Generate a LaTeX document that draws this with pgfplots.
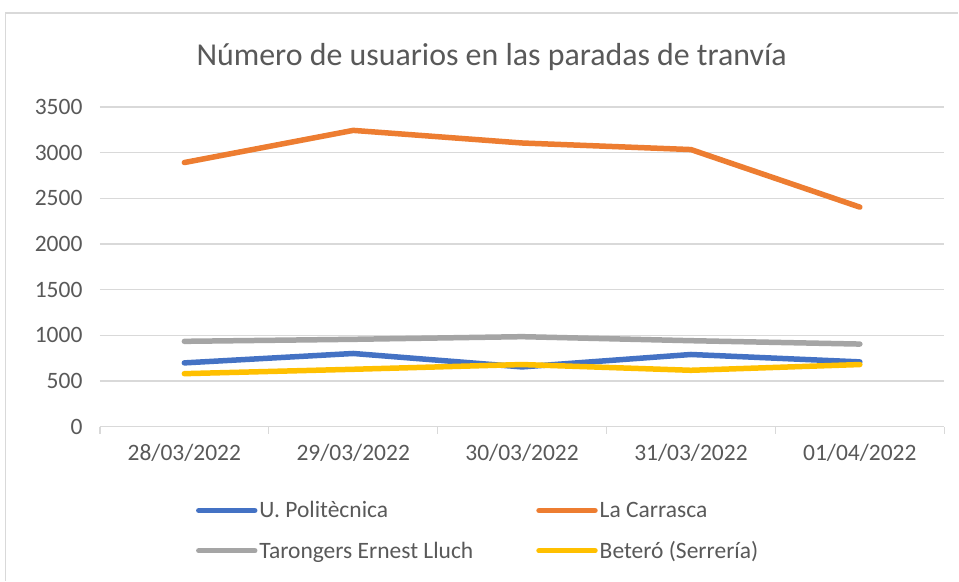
\documentclass[border=0pt]{standalone}
\usepackage{pgfplots}
\pgfplotsset{compat=1.18}
\usepackage{fontspec}
\setmainfont{Carlito}
\definecolor{sblue}{HTML}{4472C4}
\definecolor{sorange}{HTML}{ED7D31}
\definecolor{sgray}{HTML}{A5A5A5}
\definecolor{syellow}{HTML}{FFC000}
\definecolor{textgray}{HTML}{595959}
\definecolor{gridgray}{HTML}{D9D9D9}
\newcommand\tickfont{\fontsize{23.5bp}{28bp}\selectfont}
\begin{document}
\begin{tikzpicture}[x=1bp,y=1bp]
\fill[white] (0,0) rectangle (959,581);
\draw[gridgray, line width=1.5bp] (5.5,0) -- (5.5,568) -- (959,568);
\node[font=\fontsize{31.9bp}{36bp}\selectfont, text=textgray] at (492,524) {Número de usuarios en las paradas de tranvía};
\begin{axis}[
  at={(100bp,154bp)}, anchor=south west,
  width=845bp, height=320bp, scale only axis,
  xmin=-0.5, xmax=4.5, ymin=0, ymax=3500,
  axis x line*=bottom, axis y line*=left,
  y axis line style={draw=none},
  x axis line style={gridgray, line width=1.3bp},
  ytick={0,500,...,3500},
  ymajorgrids, grid style={gridgray, line width=1.3bp},
  major tick length=0pt,
  xtick={0,1,2,3,4},
  xticklabels={28/03/2022,29/03/2022,30/03/2022,31/03/2022,01/04/2022},
  minor xtick={-0.5,0.5,1.5,2.5,3.5,4.5},
  minor tick length=7bp, tick align=outside,
  minor tick style={gridgray, line width=1.3bp},
  tick label style={font=\tickfont, text=textgray},
  xticklabel style={yshift=-14bp},
  yticklabel style={xshift=-14bp},
  /pgf/number format/assume math mode=true,
  /pgf/number format/1000 sep={},
  legend columns=2,
  legend style={draw=none, fill=none, at={(0.1136,-0.2275)}, anchor=north west,
    inner sep=0pt, font=\tickfont, text=textgray,
    nodes={inner sep=2bp},
    row sep=18bp,
    /tikz/column 2/.style={column sep=61bp}},
  legend cell align=left,
  legend image code/.code={\draw[#1] (0bp,0bp) -- (56bp,0bp);},
  every axis plot/.append style={line width=5.5bp, line join=round, line cap=round},
]
\addplot[sblue] coordinates {(0,698) (1,801) (2,654) (3,790) (4,709)};
\addlegendentry{U. Politècnica}
\addplot[sorange] coordinates {(0,2891) (1,3243) (2,3105) (3,3033) (4,2403)};
\addlegendentry{La Carrasca}
\addplot[sgray] coordinates {(0,934) (1,956) (2,985) (3,941) (4,904)};
\addlegendentry{Tarongers Ernest Lluch}
\addplot[syellow] coordinates {(0,580) (1,628) (2,680) (3,617) (4,680)};
\addlegendentry{Beteró (Serrería)}
\end{axis}
\end{tikzpicture}
\end{document}
